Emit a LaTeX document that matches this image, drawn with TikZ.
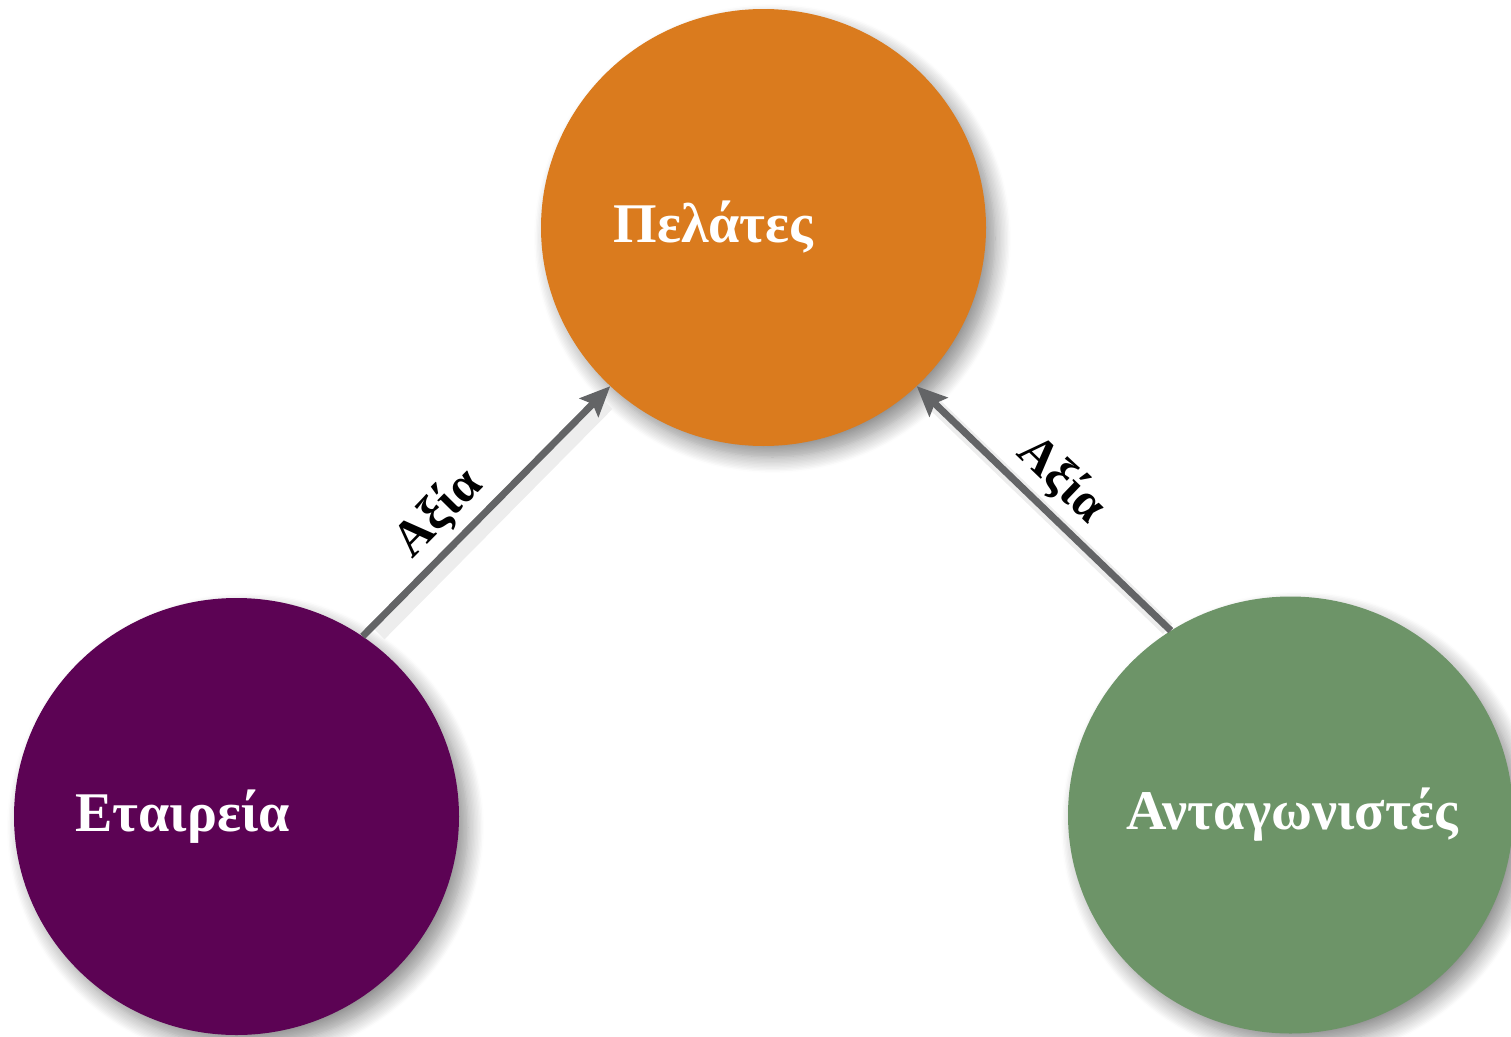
\documentclass[tikz,border=0pt]{standalone}
\usepackage{fontspec}
\setmainfont{Liberation Serif}
\usetikzlibrary{shapes.geometric,shadows.blur,arrows.meta}

\definecolor{portokali}{RGB}{218,123,30}
\definecolor{mov}{RGB}{92,3,84}
\definecolor{prasino}{RGB}{109,148,104}
\definecolor{velosgkri}{RGB}{99,100,102}

\begin{document}
\begin{tikzpicture}[x=1pt,y=-1pt,
	kyklos/.style={ellipse,draw=none,inner sep=0pt,minimum width=445pt,minimum height=437pt,
		blur shadow={shadow xshift=9pt,shadow yshift=-11pt,shadow blur radius=16pt,shadow blur steps=12,shadow opacity=45}},
	onoma/.style={text=white,font=\fontsize{56}{60}\selectfont\bfseries},
	velos/.style={draw=velosgkri,line width=7pt,-{Stealth[length=30pt,width=26pt,inset=5pt]}},
	velospisw/.style={draw=velosgkri,line width=7pt,{Stealth[length=30pt,width=26pt,inset=5pt]}-},
	skia/.style={draw=black!7,line width=14pt,shorten <=14pt,shorten >=14pt,transform canvas={shift={(7pt,-8pt)}}},
	axia/.style={font=\fontsize{50}{54}\selectfont\bfseries,inner sep=6pt}]

\clip (0,0) rectangle (1511,1036);

\node[kyklos,fill=portokali] (pel) at (763.5,227.5) {};
\node[kyklos,fill=mov] (eta) at (236.5,816.5) {};
\node[kyklos,fill=prasino] (ant) at (1290.5,815) {};

\node[onoma] (pel-t) at ([xshift=-50pt]pel.center) {Πελάτες};
\node[onoma] (eta-t) at ([xshift=-54pt]eta.center) {Εταιρεία};
\node[onoma] (ant-t) at ([xshift=2pt]ant.center) {Ανταγωνιστές};

% skies
\draw[skia] (eta.55) -- (pel.226);
\draw[skia] (pel.314) -- (ant.123);

\draw[velos] (eta.55) -- (pel.226) node[axia,pos=0.4,above,sloped] (axia1) {Αξία};
\draw[velospisw] (pel.314) -- (ant.123) node[axia,pos=0.48,above,sloped] (axia2) {Αξία};

\end{tikzpicture}
\end{document}
